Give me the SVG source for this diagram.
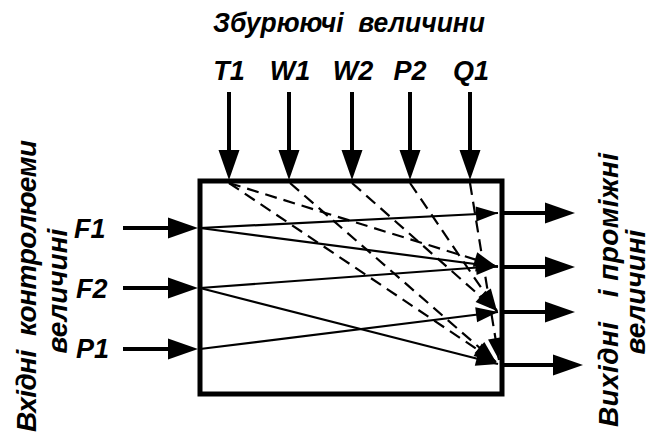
<svg xmlns="http://www.w3.org/2000/svg" width="652" height="436" viewBox="0 0 652 436">
  <style>
    text { font-family: "Liberation Sans", Arial, sans-serif; font-weight: bold; font-style: italic; fill: #000; }
    .title { font-size: 28px; }
    .lbl { font-size: 27px; }
    .side { font-size: 28px; }
    .thick { stroke: #000; stroke-width: 4; fill: none; }
    .thin { stroke: #000; stroke-width: 2.2; fill: none; }
    .dash { stroke: #000; stroke-width: 2.2; fill: none; stroke-dasharray: 12 7; }
    .box { stroke: #000; stroke-width: 5; fill: #fff; }
  </style>
  <defs>
    <marker id="big" markerUnits="userSpaceOnUse" markerWidth="30" markerHeight="21" refX="0" refY="10.5" orient="auto" overflow="visible">
      <path d="M0,0 L30,10.5 L0,21 z" fill="#000"/>
    </marker>
    <marker id="small" markerUnits="userSpaceOnUse" markerWidth="22" markerHeight="15" refX="22" refY="7.5" orient="auto" overflow="visible">
      <path d="M0,0 L22,7.5 L0,15 z" fill="#000"/>
    </marker>
  </defs>

  <g id="title">
    <text class="title" x="349" y="32" text-anchor="middle" textLength="272" lengthAdjust="spacingAndGlyphs" xml:space="preserve">Збурюючі  величини</text>
  </g>

  <g id="block">
    <rect class="box" x="200" y="181" width="302" height="213"/>
  </g>

  <g id="disturbances">
    <g id="T1"><text class="lbl" x="229" y="80" text-anchor="middle">T1</text></g>
    <g id="W1"><text class="lbl" x="290" y="80" text-anchor="middle">W1</text></g>
    <g id="W2"><text class="lbl" x="353" y="80" text-anchor="middle">W2</text></g>
    <g id="P2"><text class="lbl" x="410" y="80" text-anchor="middle">P2</text></g>
    <g id="Q1"><text class="lbl" x="471" y="80" text-anchor="middle">Q1</text></g>
  </g>

  <g id="inputs">
    <g id="F1"><text class="lbl" x="74" y="238">F1</text></g>
    <g id="F2"><text class="lbl" x="76" y="298">F2</text></g>
    <g id="P1"><text class="lbl" x="76" y="358">P1</text></g>
  </g>

  <g id="input-caption">
    <text class="side" transform="translate(36,286) rotate(-90)" text-anchor="middle" textLength="292" lengthAdjust="spacing" xml:space="preserve">Вхідні  контролюеми</text>
    <text class="side" transform="translate(67,291) rotate(-90)" text-anchor="middle">величині</text>
  </g>

  <g id="output-caption">
    <text class="side" transform="translate(618,290) rotate(-90)" text-anchor="middle" textLength="274" lengthAdjust="spacing" xml:space="preserve">Вихідні   і проміжні</text>
    <text class="side" transform="translate(645,292) rotate(-90)" text-anchor="middle">величині</text>
  </g>

  <g id="connectors">
    <!-- top disturbance arrows -->
    <path class="thick" d="M229,92 V150" marker-end="url(#big)"/>
    <path class="thick" d="M289,92 V150" marker-end="url(#big)"/>
    <path class="thick" d="M352,92 V150" marker-end="url(#big)"/>
    <path class="thick" d="M410,92 V150" marker-end="url(#big)"/>
    <path class="thick" d="M470,92 V150" marker-end="url(#big)"/>
    <!-- left input arrows -->
    <path class="thick" d="M123,228 H168" marker-end="url(#big)"/>
    <path class="thick" d="M123,288 H168" marker-end="url(#big)"/>
    <path class="thick" d="M123,349 H168" marker-end="url(#big)"/>
    <!-- right output arrows -->
    <path class="thick" d="M502,213 H545" marker-end="url(#big)"/>
    <path class="thick" d="M502,267 H545" marker-end="url(#big)"/>
    <path class="thick" d="M502,312 H545" marker-end="url(#big)"/>
    <path class="thick" d="M502,365 H553" marker-end="url(#big)"/>
    <!-- internal solid links -->
    <path class="thin" d="M200,228 L498,213" marker-end="url(#small)"/>
    <path class="thin" d="M200,228 L498,267" marker-end="url(#small)"/>
    <path class="thin" d="M200,288 L498,266" marker-end="url(#small)"/>
    <path class="thin" d="M200,288 L498,364" marker-end="url(#small)"/>
    <path class="thin" d="M200,349 L498,312" marker-end="url(#small)"/>
    <!-- internal dashed links -->
    <path class="dash" d="M229,183 L496,266" marker-end="url(#small)"/>
    <path class="dash" d="M229,183 L496,362" marker-end="url(#small)"/>
    <path class="dash" d="M290,183 L496,362" marker-end="url(#small)"/>
    <path class="dash" d="M352,183 L497,311" marker-end="url(#small)"/>
    <path class="dash" d="M410,183 L497,311" marker-end="url(#small)"/>
    <path class="dash" d="M470,183 L499,360" marker-end="url(#small)"/>
  </g>
</svg>
